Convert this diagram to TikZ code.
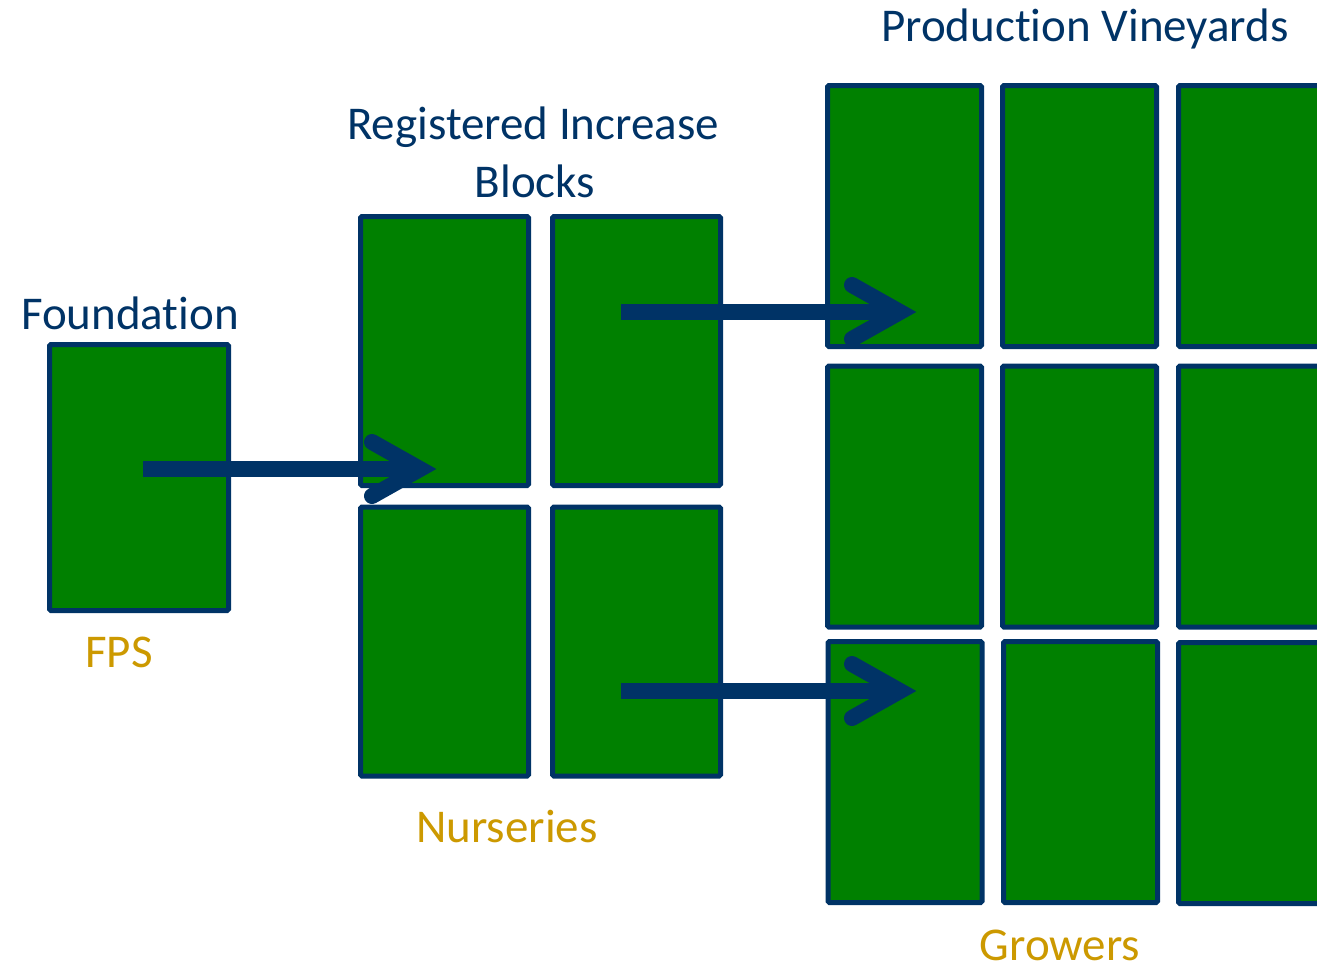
\documentclass[tikz,border=0pt]{standalone}
\usepackage{fontspec}
\setmainfont{Carlito}[Ligatures={NoCommon,NoRare,NoContextual}]
\usetikzlibrary{calc}
\definecolor{navy}{HTML}{003366}
\definecolor{leaf}{HTML}{008000}
\definecolor{gold}{HTML}{CC9900}
\tikzset{
  plot/.style={draw=navy, fill=leaf, line width=5pt, rounded corners=1.5pt, inner sep=0pt, rectangle},
  fpsbox/.style={plot, minimum width=179pt, minimum height=266pt},
  nurbox/.style={plot, minimum width=168pt, minimum height=269pt},
  vinbox/.style={plot, minimum width=154pt, minimum height=261pt},
  title/.style={text=navy, font=\fontsize{47}{56}\selectfont, anchor=base, inner sep=0pt},
  tag/.style={text=gold, font=\fontsize{47}{56}\selectfont, anchor=base, inner sep=0pt},
  shaft/.style={draw=navy, line width=16pt, line cap=butt},
  chev/.style={draw=navy, line width=16pt, line cap=round, line join=miter, miter limit=10}
}
\begin{document}
\begin{tikzpicture}[x=1pt,y=-1pt]
\useasboundingbox (0,0) rectangle (1317,967);
\clip (0,0) rectangle (1317,967);
% Foundation
\node[fpsbox] (fps) at (139,477.5) {};
% Nursery blocks
\node[nurbox] (n11) at (444.5,351) {};
\node[nurbox] (n12) at (636.5,351) {};
\node[nurbox] (n21) at (444.5,641.5) {};
\node[nurbox] (n22) at (636.5,641.5) {};
% Production vineyards
\node[vinbox] (v11) at (904.5,216) {};
\node[vinbox] (v12) at (1079.5,216) {};
\node[vinbox] (v13) at (1255.5,216) {};
\node[vinbox] (v21) at (904.5,496.5) {};
\node[vinbox] (v22) at (1079.5,496.5) {};
\node[vinbox] (v23) at (1255.5,496.5) {};
\node[vinbox] (v31) at (905,772) {};
\node[vinbox] (v32) at (1080.5,772) {};
\node[vinbox] (v33) at (1255.5,773) {};
% Labels
\node[title] (tfound) at (130,329) {Foundat\kern0pt ion};
\node[title] (treg) at (533,139) {Registered Increase};
\node[title] (tblk) at (535,197) {Blocks};
\node[title] (tprod) at (1085,41) {Product\kern0pt ion Vineyards};
\node[tag] (tfps) at (119,667) {FPS};
\node[tag] (tnur) at (507,842) {Nurseries};
\node[tag] (tgrow) at (1060,960) {Growers};
% Arrows
\coordinate (a1s) at (143,469);
\coordinate (a1t) at (420,469);
\coordinate (a2s) at (621,312);
\coordinate (a2t) at (900,312);
\coordinate (a3s) at (621,691);
\coordinate (a3t) at (900,691);
\foreach \s/\t in {a1s/a1t,a2s/a2t,a3s/a3t}{
  \draw[shaft] (\s) -- (\t);
  \draw[chev] ($(\t)+(-48,-27)$) -- (\t) -- ($(\t)+(-48,27)$);
}
\end{tikzpicture}
\end{document}
